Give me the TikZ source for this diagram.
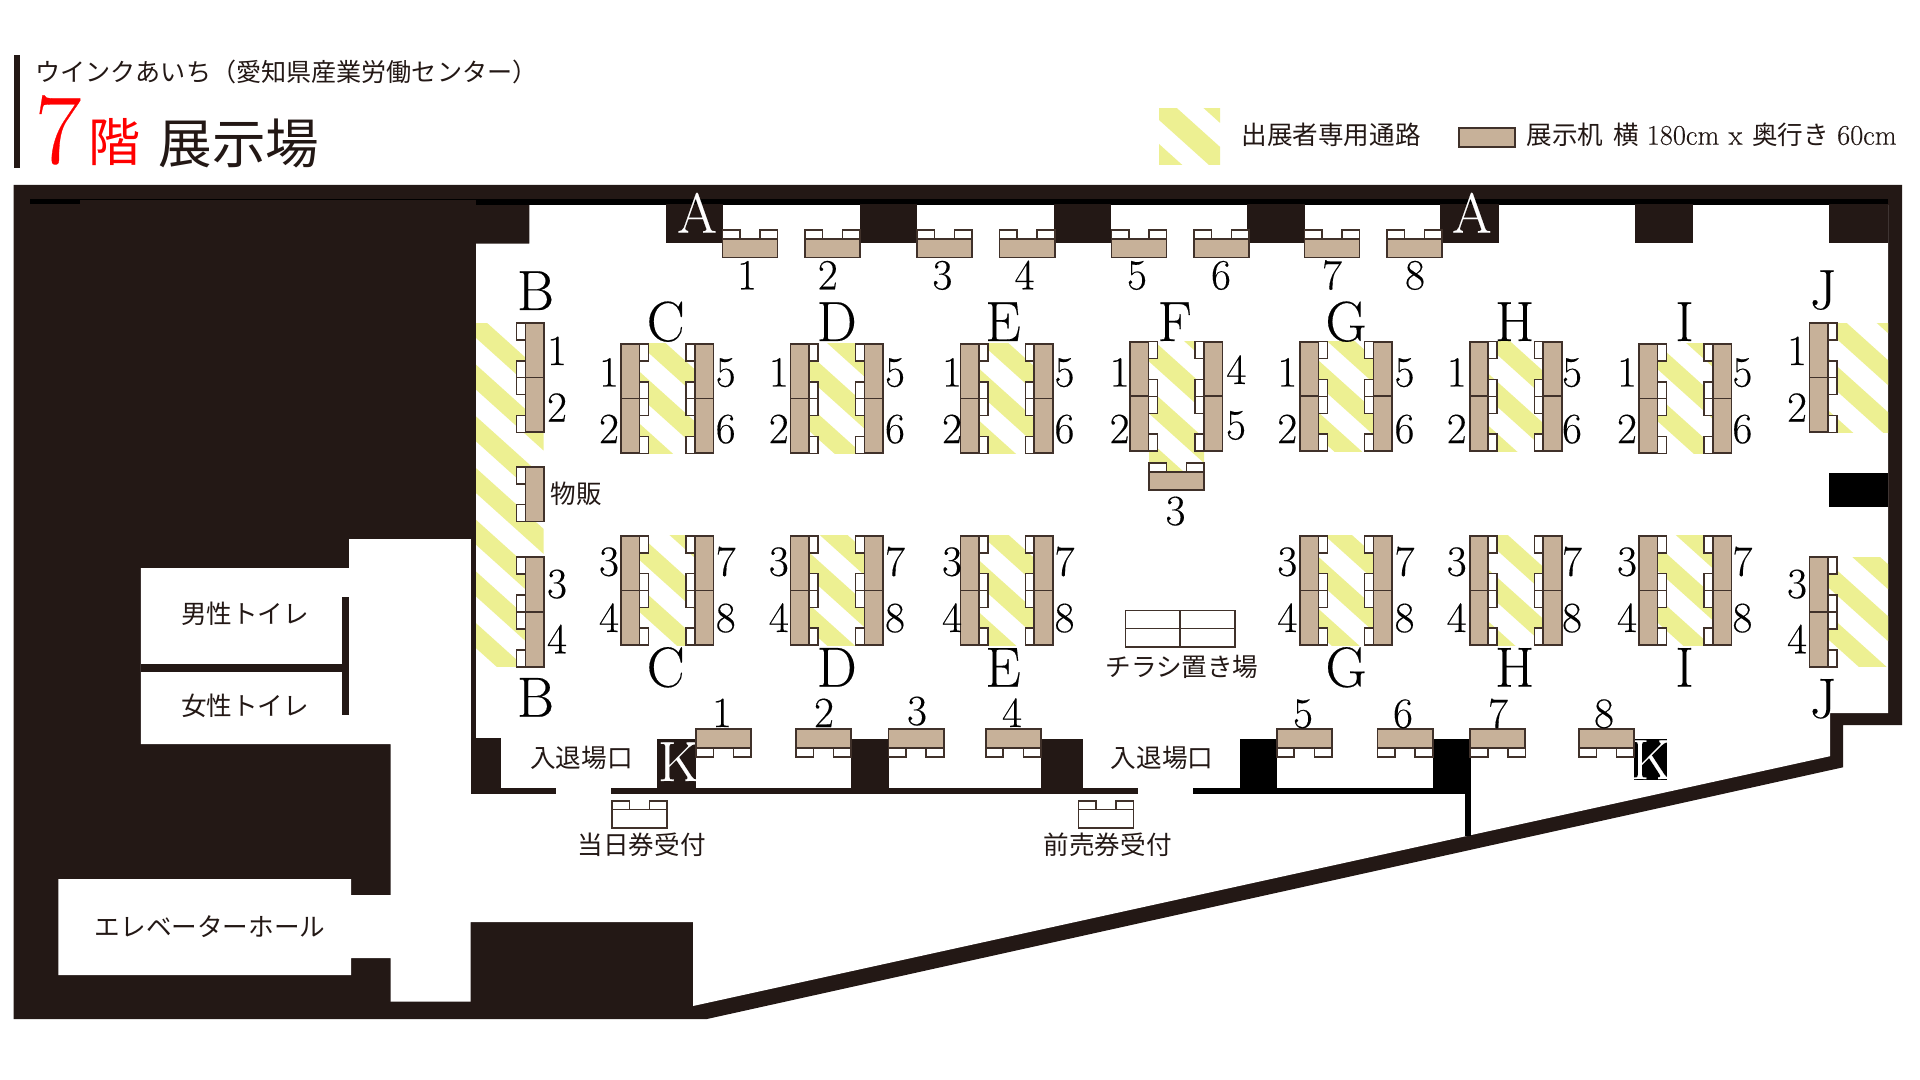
\documentclass[tikz,border=0pt]{standalone}
\usepackage{fontspec}
\newfontfamily\jpf{Noto Sans CJK JP}
\newfontfamily\numf[FakeBold=0.3]{Latin Modern Roman}
\definecolor{wallc}{HTML}{231815}
\definecolor{hatchc}{HTML}{EDF092}
\definecolor{deskc}{HTML}{C7B199}
\definecolor{deskl}{HTML}{40312A}
\newcounter{lab}
\tikzset{
  lab/.style={inner sep=0pt,anchor=base},
  deskbox/.style={fill=deskc,draw=deskl,line width=0.85pt},
  tabbox/.style={fill=white,draw=deskl,line width=0.8pt},
  thinbox/.style={fill=white,draw=deskl,line width=0.7pt},
}
\newcommand{\Lab}[4]{\stepcounter{lab}\node[lab,font=#1] (t\thelab) at (#2,#3) {#4};}
\newcommand{\dgf}{\numf\fontsize{21.5}{21.5}\selectfont}
\newcommand{\ltf}{\numf\fontsize{28.3}{28.3}\selectfont}
\newcommand{\jpsm}{\jpf\fontsize{12.8}{12.8}\selectfont}
% vertical desk with tabs to the right
\newcommand{\VDeskR}[2]{%
  \draw[tabbox] ({#1+18.4},#2) rectangle ({#1+27.4},{#2+17});
  \draw[tabbox] ({#1+18.4},{#2+37.7}) rectangle ({#1+27.4},{#2+54.7});
  \draw[deskbox] (#1,#2) rectangle ({#1+18.4},{#2+54.7});}
% vertical desk with tabs to the left
\newcommand{\VDeskL}[2]{%
  \draw[tabbox] ({#1-9},#2) rectangle (#1,{#2+17});
  \draw[tabbox] ({#1-9},{#2+37.7}) rectangle (#1,{#2+54.7});
  \draw[deskbox] (#1,#2) rectangle ({#1+18.4},{#2+54.7});}
% horizontal desk, tabs above; #2 = top of the desk
\newcommand{\HDeskU}[3][deskbox]{%
  \draw[tabbox] (#2,{#3-9}) rectangle ({#2+17.5},#3);
  \draw[tabbox] ({#2+37.6},{#3-9}) rectangle ({#2+55.1},#3);
  \draw[#1] (#2,#3) rectangle ({#2+55.1},{#3+18.2});}
% horizontal desk, tabs below
\newcommand{\HDeskD}[2]{%
  \draw[tabbox] (#1,{#2+18.4}) rectangle ({#1+17.5},{#2+27.7});
  \draw[tabbox] ({#1+37.6},{#2+18.4}) rectangle ({#1+55.1},{#2+27.7});
  \draw[deskbox] (#1,#2) rectangle ({#1+55.1},{#2+18.4});}
% hatched box: x1 y1 x2 y2 phase bandheight period
\newcommand{\Hatch}[7]{%
  \begin{scope}
    \clip (#1,#2) rectangle (#3,#4);
    \foreach \n in {-3,...,9}{
      \pgfmathsetmacro{\ya}{#5+\n*#7}
      \pgfmathsetmacro{\yb}{\ya+0.9*(#3-#1)}
      \fill[hatchc] (#1,\ya) -- (#3,\yb) -- (#3,{\yb+#6}) -- (#1,{\ya+#6}) -- cycle;
    }
  \end{scope}}
\begin{document}
\begin{tikzpicture}[x=0.5pt,y=-0.5pt]
\useasboundingbox (0,0) rectangle (1920,1080);
\fill[white] (0,0) rectangle (1920,1080);

% heading
\fill[wallc] (13.5,55.3) rectangle (19.6,168);
\node[inner sep=0pt,anchor=west,font=\jpf\fontsize{12.55}{12.55}\selectfont,text=wallc] (head) at (35,72) {ウインクあいち（愛知県産業労働センター）};
\node[inner sep=0pt,anchor=base,font=\numf\fontsize{50}{50}\selectfont,text=red] (seven) at (58,163) {7};
\node[inner sep=0pt,font=\jpf\fontsize{26}{26}\selectfont,text=red] (kai) at (114,142.5) {階};
\node[inner sep=0pt,font=\jpf\fontsize{26.8}{26.8}\selectfont,text=wallc] (room) at (239,143) {展示場};

% legend
\Hatch{1159}{109}{1220}{165}{40}{28}{52}
\node[inner sep=0pt,anchor=west,font=\jpsm,text=wallc] (lg1) at (1241,135) {出展者専用通路};
\draw[deskbox] (1459,128) rectangle (1515,147);
\node[inner sep=0pt,anchor=west,text=wallc,font=\jpsm] (lg2) at (1526,135)
  {展示机\hspace{5pt}横\hspace{4pt}{\numf\fontsize{14.2}{14.2}\selectfont 180cm\hspace{4.6pt}x}\hspace{5pt}奥行き\hspace{4pt}{\numf\fontsize{14.2}{14.2}\selectfont 60cm}};

% building mass
\fill[wallc] (13.5,185) -- (1902,185) -- (1902,725) -- (1843,725) -- (1843,767.3)
  -- (707,1019) -- (13.5,1019) -- cycle;
% open floor
\fill[white] (529.4,205) -- (1888,205) -- (1888,713) -- (1830,713) -- (1830,756.2)
  -- (693,1006) -- (693,922) -- (470.6,922) -- (470.6,1001.7) -- (390.6,1001.7)
  -- (390.6,958) -- (351,958) -- (351,975) -- (58.4,975) -- (58.4,879) -- (351,879)
  -- (351,895) -- (390.6,895) -- (390.6,744) -- (140.8,744) -- (140.8,568)
  -- (349,568) -- (349,539) -- (476,539) -- (476,243.7) -- (529.4,243.7) -- cycle;
% black strip under the top wall
\fill[black] (30,199) rectangle (80,204);
\fill[black] (476,199) rectangle (1888,205);
\fill[black] (80,199) rectangle (476,200.5);
% toilets partitions
\fill[wallc] (140.8,664) rectangle (345,671.7);
\fill[wallc] (341.6,596.7) rectangle (349,715);
% top pillars
\foreach \a/\b in {665.7/723,859.6/917,1053.5/1111,1247/1304.5,1440/1499,1634.7/1692.7,1829/1888}{
  \fill[wallc] (\a,204) rectangle (\b,242.7);
}
\fill[black] (1829,473) rectangle (1888,507);
% entrance wall, left part
\fill[wallc] (470.6,539) rectangle (476,794);
\fill[wallc] (470.6,738) rectangle (501,794);
\fill[wallc] (470.6,788) rectangle (555.5,794);
\fill[wallc] (611.4,788) rectangle (1137.6,794);
\fill[wallc] (657,738.7) rectangle (696,794);
\fill[wallc] (850.6,738.7) rectangle (889,794);
\fill[wallc] (1040.8,738.7) rectangle (1083,794);
% entrance wall, right part
\fill[black] (1193,788) rectangle (1470.6,794);
\fill[black] (1240,739) rectangle (1276.7,794);
\fill[black] (1432.7,739) rectangle (1470.6,794);
\fill[black] (1465,794) rectangle (1470.6,836);
\fill[black] (1634,739) rectangle (1667,780);

% exhibitors' passage
\Hatch{476}{323.3}{543.7}{666.7}{313}{25}{51.7}
\Hatch{640}{344}{695}{453.7}{320.1}{25}{52}
\Hatch{809.4}{344}{864.5}{453.7}{302.1}{25}{52}
\Hatch{979}{344}{1034.3}{453.7}{316.6}{25}{52}
\Hatch{1149}{341.7}{1204}{470}{284.5}{25}{52}
\Hatch{1318.8}{341.7}{1373.5}{451}{308.7}{25}{52}
\Hatch{1488}{341.7}{1543.3}{451}{321.4}{25}{52}
\Hatch{1657.6}{344}{1713}{453.7}{292.3}{25}{52}
\Hatch{640}{535.7}{695}{645.3}{483.5}{25}{52}
\Hatch{809.4}{535.7}{864.5}{645.3}{500.7}{25}{52}
\Hatch{979}{535.7}{1034.3}{645.3}{508.3}{25}{52}
\Hatch{1318.8}{535.7}{1373.5}{645.3}{505.2}{25}{52}
\Hatch{1488}{535.7}{1543.3}{645.3}{517.2}{25}{52}
\Hatch{1657.6}{535.7}{1713}{645.3}{493.7}{25}{52}
\Hatch{1827.8}{323.3}{1888}{432.3}{306}{25}{52}
\Hatch{1827.8}{557}{1888}{666.7}{510}{25}{52}

% white letters on pillars
\Lab{\ltf\color{white}}{697}{232.7}{A}
\Lab{\ltf\color{white}}{1471.8}{232.7}{A}
\begin{scope}
  \clip (657,738.7) rectangle (696,794);
  \Lab{\ltf\color{white}}{678.4}{781}{K}
\end{scope}
\begin{scope}
  \clip (1634,739) rectangle (1667,780);
  \Lab{\ltf\color{white}}{1651}{779}{K}
\end{scope}

% row A desks
\foreach \x in {722.4,805,917,999.6,1111.4,1193.9,1304.5,1387}{
  \HDeskU{\x}{239.3}
}
\foreach \x/\t in {747/1,827.8/2,942.4/3,1024.5/4,1137/5,1221/6,1332/7,1415/8}{
  \Lab{\dgf}{\x}{289.3}{\t}
}

% row K desks
\foreach \x in {696,796,888.6,985.7,1276.7,1377.6,1470.2,1578.8}{
  \HDeskD{\x}{729.3}
}
\foreach \x/\y/\t in {722/727/1,824/727/2,917/725/3,1012/727/4,1303/727.7/5,1403/727.7/6,1498/727.7/7,1604/727.7/8}{
  \Lab{\dgf}{\x}{\y}{\t}
}

% upper islands
\foreach \lx/\rx/\ldx/\rdx/\ty in {621/695/609/725.7/344,790.6/864.5/778.8/895/344,960.4/1034.3/952/1064.5/344,1300/1373.5/1287.3/1404.5/341.7,1469.8/1543.3/1456.7/1572/341.7,1639/1713/1627/1742.4/344,1130/1204/1119.6/1236.3/341.7}{
  \VDeskR{\lx}{\ty}
  \VDeskR{\lx}{\ty+54.6}
  \VDeskL{\rx}{\ty}
  \VDeskL{\rx}{\ty+54.6}
  \Lab{\dgf}{\ldx}{386.5}{1}
  \Lab{\dgf}{\ldx}{443}{2}
}
\foreach \rdx in {725.7,895,1064.5,1404.5,1572,1742.4}{
  \Lab{\dgf}{\rdx}{386.5}{5}
  \Lab{\dgf}{\rdx}{443}{6}
}
\Lab{\dgf}{1236.3}{384}{4}
\Lab{\dgf}{1236}{439.3}{5}
\HDeskU{1149}{471.7}
\Lab{\dgf}{1175.5}{525}{3}

% lower islands
\foreach \lx/\rx/\ldx/\rdx in {621/695/609/725.7,790.6/864.5/778.8/895,960.4/1034.3/952/1064.5,1300/1373.5/1287.3/1404.5,1469.8/1543.3/1456.7/1572,1639/1713/1627/1742.4}{
  \VDeskR{\lx}{535.7}
  \VDeskR{\lx}{590.5}
  \VDeskL{\rx}{535.7}
  \VDeskL{\rx}{590.5}
  \Lab{\dgf}{\ldx}{575.7}{3}
  \Lab{\dgf}{\ldx}{632}{4}
  \Lab{\dgf}{\rdx}{575.7}{7}
  \Lab{\dgf}{\rdx}{632}{8}
}

% column B
\VDeskL{525.5}{323.3}
\VDeskL{525.5}{377.6}
\VDeskL{525.5}{466.7}
\VDeskL{525.5}{557}
\VDeskL{525.5}{612}
\foreach \y/\t in {365/1,421.7/2,598/3,653.3/4}{
  \Lab{\dgf}{557}{\y}{\t}
}
\Lab{\jpsm\color{wallc}}{576}{503.5}{物販}

% column J
\VDeskR{1809.4}{323.3}
\VDeskR{1809.4}{377.6}
\VDeskR{1809.4}{557}
\VDeskR{1809.4}{612}
\foreach \y/\t in {365/1,421.7/2,598/3,653.3/4}{
  \Lab{\dgf}{1797}{\y}{\t}
}

% column letters
\Lab{\ltf}{535.5}{310}{B}
\Lab{\ltf}{535.5}{716.7}{B}
\Lab{\ltf}{1823}{309}{J}
\Lab{\ltf}{1823}{717.7}{J}
\foreach \x/\t in {665.7/C,836.7/D,1003/E,1346/G,1514.7/H,1684.5/I}{
  \Lab{\ltf}{\x}{341}{\t}
  \Lab{\ltf}{\x}{686.7}{\t}
}
\Lab{\ltf}{1174.7}{341}{F}

% flyers table
\draw[thinbox] (1125.3,610.3) rectangle (1235,647);
\draw[deskl,line width=0.7pt] (1125.3,628.7) -- (1235,628.7);
\draw[deskl,line width=0.7pt] (1180,610.3) -- (1180,647);
\Lab{\jpsm\color{wallc}}{1182}{676}{チラシ置き場}

% reception desks
\HDeskU[thinbox]{611.8}{809.7}
\HDeskU[thinbox]{1078.4}{809.7}
\Lab{\jpsm\color{wallc}}{641.6}{854.5}{当日券受付}
\Lab{\jpsm\color{wallc}}{1107.6}{854.5}{前売券受付}

% room names
\Lab{\jpsm\color{wallc}}{581.4}{767.5}{入退場口}
\Lab{\jpsm\color{wallc}}{1162}{767.5}{入退場口}
\Lab{\jpsm\color{wallc}}{245}{623}{男性トイレ}
\Lab{\jpsm\color{wallc}}{245}{715.5}{女性トイレ}
\Lab{\jpsm\color{wallc}}{210}{936}{エレベーターホール}
\end{tikzpicture}
\end{document}
